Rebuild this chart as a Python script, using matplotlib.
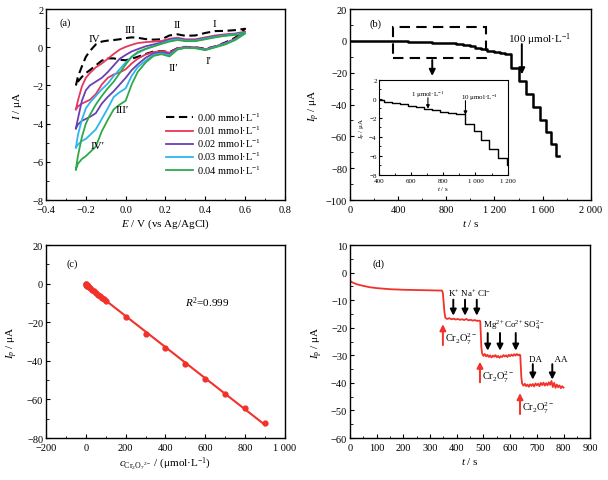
import numpy as np
import matplotlib
matplotlib.use("Agg")
import matplotlib.pyplot as plt
from matplotlib.patches import Rectangle
from matplotlib.ticker import MultipleLocator, FuncFormatter

plt.rcParams.update({
    "font.family": ["Liberation Serif", "DejaVu Serif"],
    "mathtext.fontset": "custom",
    "mathtext.rm": "Liberation Serif",
    "mathtext.it": "Liberation Serif:italic",
    "mathtext.bf": "Liberation Serif:bold",
    "font.size": 7.5,
    "axes.linewidth": 1.0,
    "xtick.direction": "in",
    "ytick.direction": "in",
    "xtick.major.size": 3,
    "ytick.major.size": 3,
    "xtick.minor.size": 1.8,
    "ytick.minor.size": 1.8,
})

# ---- (a) cyclic voltammograms, read on a common potential grid ----
cv_E = [-0.25, -0.24, -0.22, -0.20, -0.18, -0.15, -0.12, -0.09, -0.06, -0.03,
        0.00, 0.03, 0.06, 0.10, 0.14, 0.18, 0.22, 0.26, 0.30, 0.35,
        0.40, 0.45, 0.50, 0.55, 0.60]
cv_labels = ["0.00", "0.01", "0.02", "0.03", "0.04"]
cv_colors = ["black", "#e8365d", "#6b3fb3", "#2db6ef", "#2fa84a"]
# forward (anodic) branch, same order as cv_E
cv_up = [
    [-2.0, -1.55, -1.0, -0.5, -0.2, 0.15, 0.3, 0.35, 0.38, 0.42, 0.48, 0.52, 0.5, 0.43,
     0.4, 0.42, 0.62, 0.68, 0.6, 0.62, 0.75, 0.85, 0.86, 0.9, 0.97],
    [-3.25, -2.8, -2.05, -1.6, -1.35, -1.05, -0.85, -0.6, -0.35, -0.12, 0.02, 0.13, 0.22,
     0.27, 0.3, 0.33, 0.45, 0.5, 0.42, 0.42, 0.52, 0.62, 0.68, 0.72, 0.82],
    [-4.25, -3.75, -2.8, -2.25, -2.0, -1.8, -1.6, -1.3, -0.95, -0.6, -0.4, -0.22, -0.1,
     0.05, 0.15, 0.25, 0.4, 0.45, 0.38, 0.38, 0.48, 0.58, 0.64, 0.7, 0.78],
    [-5.25, -4.6, -3.8, -3.2, -2.9, -2.55, -2.2, -1.9, -1.5, -1.15, -0.8, -0.5, -0.3,
     -0.1, 0.05, 0.2, 0.35, 0.42, 0.35, 0.35, 0.45, 0.55, 0.62, 0.68, 0.75],
    [-6.4, -5.7, -4.7, -4.0, -3.55, -3.0, -2.55, -2.15, -1.8, -1.35, -0.9, -0.5, -0.25,
     -0.08, 0.05, 0.18, 0.3, 0.38, 0.32, 0.32, 0.42, 0.52, 0.6, 0.65, 0.72],
]
# reverse (cathodic) branch, same order as cv_E
cv_down = [
    [-2.0, -1.8, -1.55, -1.35, -1.2, -0.95, -0.7, -0.58, -0.58, -0.65, -0.68, -0.6, -0.5,
     -0.35, -0.22, -0.2, -0.25, -0.05, 0.02, 0.0, -0.08, 0.05, 0.25, 0.5, 0.97],
    [-3.25, -3.1, -2.95, -2.85, -2.75, -2.45, -1.95, -1.6, -1.42, -1.32, -1.15, -0.85, -0.6,
     -0.38, -0.25, -0.2, -0.28, -0.05, 0.02, 0.0, -0.1, 0.05, 0.22, 0.45, 0.82],
    [-4.25, -4.05, -3.85, -3.75, -3.65, -3.45, -2.95, -2.6, -2.3, -1.95, -1.6, -1.2, -0.9,
     -0.55, -0.32, -0.27, -0.35, -0.08, 0.0, -0.02, -0.12, 0.03, 0.2, 0.42, 0.78],
    [-5.25, -5.1, -4.9, -4.8, -4.6, -4.3, -3.75, -3.2, -2.6, -2.35, -2.15, -1.5, -1.05,
     -0.7, -0.4, -0.32, -0.42, -0.1, -0.02, -0.04, -0.13, 0.02, 0.18, 0.4, 0.75],
    [-6.4, -6.1, -5.85, -5.7, -5.5, -5.2, -4.4, -3.8, -3.25, -3.0, -2.8, -1.95, -1.3,
     -0.8, -0.45, -0.36, -0.48, -0.12, -0.03, -0.05, -0.15, 0.0, 0.15, 0.38, 0.72],
]
peak_names = ["I", "II", "III", "IV", "I\u2032", "II\u2032", "III\u2032", "IV\u2032"]
peak_E = [0.446, 0.26, 0.02, -0.155, 0.415, 0.24, -0.02, -0.14]
peak_I = [1.27, 1.2, 0.92, 0.47, -0.7, -1.05, -3.25, -5.15]

# ---- (b) amperometric staircase ----
b_t = [0, 380, 430, 480, 530, 580, 630, 680, 730, 780, 830, 880, 936, 994, 1036,
       1086, 1140, 1195, 1245, 1290, 1336, 1405, 1465, 1520, 1575, 1625, 1670, 1712, 1740]
b_I = [0.0, -0.15, -0.3, -0.45, -0.6, -0.75, -0.9, -1.05, -1.2, -1.35, -1.5, -1.65,
       -2.65, -3.45, -4.35, -5.3, -6.25, -7.0, -7.7, -8.5, -16.8, -25.0, -33.3, -41.5,
       -49.5, -57.4, -65.0, -72.5, -72.5]

# ---- (c) calibration ----
conc = [1, 2, 3, 4, 5, 6, 7, 8, 9, 10, 20, 30, 40, 50, 60, 70, 80, 90,
        100, 200, 300, 400, 500, 600, 700, 800, 900]
peak_current = [-0.2, -0.35, -0.5, -0.6, -0.75, -0.85, -1.0, -1.1, -1.25, -1.4, -2.3,
                -3.1, -4.0, -4.8, -5.6, -6.4, -7.3, -8.1, -9.0, -17.1, -25.9, -33.3,
                -41.4, -49.5, -57.4, -64.7, -72.2]

# ---- (d) interference test ----
d_t = [0, 10, 25, 50, 75, 100, 150, 200, 250, 300, 345,
       348, 351, 354, 357, 360,
       365, 372, 380, 388, 396, 404, 412, 420, 428, 436, 444, 452, 460, 468, 476, 484, 488,
       490, 492, 495,
       500, 505, 510, 515, 520, 525, 530, 535, 540, 545, 550, 555, 560, 565, 570, 575,
       580, 585, 590, 595, 600, 605, 610, 615, 620, 625, 630, 635, 638,
       640, 642, 645,
       650, 655, 660, 665, 670, 675, 680, 685, 690, 695, 700, 705, 710, 715, 720, 725,
       730, 735, 740, 745, 750, 755, 760, 765, 770, 775, 780, 785, 790, 795, 800]
d_I = [-3.0, -3.6, -4.2, -4.8, -5.3, -5.6, -6.0, -6.2, -6.3, -6.4, -6.5,
       -7.5, -11.0, -14.5, -16.2, -16.6,
       -16.8, -16.5, -16.9, -16.7, -17.0, -16.8, -17.1, -16.9, -17.2, -16.8, -17.3, -17.1,
       -17.4, -17.2, -17.5, -17.4, -17.6,
       -22.0, -27.0, -29.3,
       -30.2, -29.5, -30.4, -29.8, -30.6, -30.0, -30.8, -30.1, -30.5, -29.9, -30.7, -30.2,
       -30.9, -30.3, -30.6, -29.9, -30.4, -30.0, -30.6, -29.8, -30.3, -29.7, -30.2, -29.6,
       -30.1, -29.5, -30.0, -29.7, -30.0,
       -34.0, -38.0, -40.3,
       -41.0, -40.3, -41.2, -40.6, -41.4, -40.5, -41.1, -40.4, -41.3, -40.2, -40.9, -40.3,
       -41.2, -40.0, -40.8, -39.9, -41.0, -40.1, -40.9, -39.8, -40.7, -39.3, -41.5, -40.0,
       -41.8, -40.6, -41.6, -40.9, -41.9, -41.2, -41.7]
# interferent groups: label row, where it starts, and the arrows under it
ion_groups = ["K$^{+}$ Na$^{+}$ Cl$^{-}$", "Mg$^{2+}$Co$^{2+}$SO$_4^{2-}$", "DA      AA"]
ion_group_t = [369, 499, 669]
ion_t = [[387, 431, 475], [516, 562, 621], [685, 758]]
ion_top = [-9.8, -21.9, -33.2]
ion_tip = [-15.6, -28.3, -38.8]
cr_t = [348, 487, 637]
cr_base = [-26.3, -39.8, -51.3]
cr_tip = [-18.7, -32.3, -43.7]

RED = "#f2312b"


def spaced(v, _pos):
    n = int(round(v))
    s = f"{abs(n):,}".replace(",", " ")
    return ("\u2212" if n < 0 else "") + s


def down_arrow(ax, x, y0, y1, color="black", lw=1.4, ms=9):
    ax.annotate("", xy=(x, y1), xytext=(x, y0),
                arrowprops=dict(arrowstyle="-|>", color=color, lw=lw,
                                mutation_scale=ms, shrinkA=0, shrinkB=0))


fig = plt.figure(figsize=(6.08, 4.81), dpi=100)
ax_a = fig.add_axes([0.0757, 0.582, 0.393, 0.397])
ax_b = fig.add_axes([0.5757, 0.582, 0.396, 0.397])
ax_c = fig.add_axes([0.0757, 0.0873, 0.393, 0.401])
ax_d = fig.add_axes([0.5757, 0.0873, 0.395, 0.401])

# (a)
for k in range(len(cv_labels)):
    E_loop = cv_E + cv_E[::-1]
    I_loop = cv_up[k] + cv_down[k][::-1]
    ls = (0, (4, 2.2)) if k == 0 else "-"
    lw = 1.5 if k == 0 else 1.3
    ax_a.plot(E_loop, I_loop, color=cv_colors[k], ls=ls, lw=lw,
              label=cv_labels[k] + " mmol\u00b7L$^{-1}$")
for name, e, i in zip(peak_names, peak_E, peak_I):
    ax_a.text(e, i, name, ha="center", va="center", fontsize=8)
ax_a.text(-0.33, 1.3, "(a)", ha="left", va="center", fontsize=7.5)
ax_a.set_xlim(-0.4, 0.8)
ax_a.set_ylim(-8, 2)
ax_a.xaxis.set_major_locator(MultipleLocator(0.2))
ax_a.xaxis.set_minor_locator(MultipleLocator(0.1))
ax_a.yaxis.set_major_locator(MultipleLocator(2))
ax_a.yaxis.set_minor_locator(MultipleLocator(1))
ax_a.set_xlabel("$E$ / V (vs Ag/AgCl)", fontsize=8, labelpad=2)
ax_a.set_ylabel("$I$ / \u03bcA", fontsize=8, labelpad=6)
ax_a.legend(loc="lower right", bbox_to_anchor=(0.93, 0.09), frameon=False,
            fontsize=7.5, handlelength=2.6, handletextpad=0.4, labelspacing=0.07,
            borderpad=0.2)

# (b)
ax_b.plot(b_t, b_I, color="black", lw=1.8, drawstyle="steps-post")
ax_b.add_patch(Rectangle((357, -10.5), 770, 19.2, fill=False, ec="black",
                         lw=1.5, ls=(0, (5, 3))))
down_arrow(ax_b, 683, -12, -22)
down_arrow(ax_b, 1427, -2, -21)
ax_b.text(1576, 1.6, "100 \u03bcmol\u00b7L$^{-1}$", ha="center", va="center", fontsize=8)
ax_b.text(158, 11, "(b)", ha="left", va="center", fontsize=7.5)
ax_b.set_xlim(0, 2000)
ax_b.set_ylim(-100, 20)
ax_b.xaxis.set_major_locator(MultipleLocator(400))
ax_b.xaxis.set_minor_locator(MultipleLocator(200))
ax_b.yaxis.set_major_locator(MultipleLocator(20))
ax_b.yaxis.set_minor_locator(MultipleLocator(10))
ax_b.xaxis.set_major_formatter(FuncFormatter(spaced))
ax_b.yaxis.set_major_formatter(FuncFormatter(spaced))
ax_b.set_xlabel("$t$ / s", fontsize=8, labelpad=2)
ax_b.set_ylabel("$I_p$ / \u03bcA", fontsize=8, labelpad=3)

ins = fig.add_axes([0.623, 0.635, 0.212, 0.197])
ins.plot(b_t, b_I, color="black", lw=1.0, drawstyle="steps-post")
ins.set_xlim(400, 1200)
ins.set_ylim(-8, 2)
ins.xaxis.set_major_locator(MultipleLocator(200))
ins.xaxis.set_minor_locator(MultipleLocator(100))
ins.yaxis.set_major_locator(MultipleLocator(2))
ins.yaxis.set_minor_locator(MultipleLocator(1))
ins.xaxis.set_major_formatter(FuncFormatter(spaced))
ins.yaxis.set_major_formatter(FuncFormatter(spaced))
ins.tick_params(labelsize=5, length=2, pad=1.5)
ins.tick_params(axis="x", pad=2.5)
ins.tick_params(which="minor", length=1.2)
for sp in ins.spines.values():
    sp.set_linewidth(0.8)
ins.set_xlabel("$t$ / s", fontsize=5, labelpad=0.5)
ins.set_ylabel("$I_p$ / \u03bcA", fontsize=5, labelpad=0.5)
down_arrow(ins, 705, 0.1, -1.05, lw=0.8, ms=5)
down_arrow(ins, 938, -0.2, -1.7, lw=0.8, ms=5)
ins.text(705, 0.5, "1 \u03bcmol\u00b7L$^{-1}$", ha="center", va="center", fontsize=5)
ins.text(1026, 0.2, "10 \u03bcmol\u00b7L$^{-1}$", ha="center", va="center", fontsize=5)

# (c)
fit = np.polyfit(conc, peak_current, 1)
c_line = [0, max(conc)]
ax_c.plot(c_line, np.polyval(fit, c_line), color=RED, lw=1.5)
ax_c.plot(conc, peak_current, "o", color=RED, ms=3.5)
ax_c.text(500, -9.5, "$R^2$=0.999", ha="left", va="center", fontsize=8)
ax_c.text(-96, 10.7, "(c)", ha="left", va="center", fontsize=7.5)
ax_c.set_xlim(-200, 1000)
ax_c.set_ylim(-80, 20)
ax_c.xaxis.set_major_locator(MultipleLocator(200))
ax_c.xaxis.set_minor_locator(MultipleLocator(100))
ax_c.yaxis.set_major_locator(MultipleLocator(20))
ax_c.yaxis.set_minor_locator(MultipleLocator(10))
ax_c.xaxis.set_major_formatter(FuncFormatter(spaced))
ax_c.yaxis.set_major_formatter(FuncFormatter(spaced))
ax_c.set_xlabel("$c_{\\mathrm{Cr_2O_7}^{2-}}$ / (\u03bcmol\u00b7L$^{-1}$)", fontsize=8, labelpad=2)
ax_c.set_ylabel("$I_p$ / \u03bcA", fontsize=8, labelpad=5)

# (d)
ax_d.plot(d_t, d_I, color=RED, lw=1.3)
for label, t0, ts, y0, y1 in zip(ion_groups, ion_group_t, ion_t, ion_top, ion_tip):
    for t in ts:
        down_arrow(ax_d, t, y0, y1)
    ax_d.text(t0, y0 + 0.6, label, ha="left", va="bottom", fontsize=6.5)
for t, y0, y1 in zip(cr_t, cr_base, cr_tip):
    down_arrow(ax_d, t, y0, y1, color=RED)
    ax_d.text(t + 8, (y0 + y1) / 2 - 1.5, "Cr$_2$O$_7^{2-}$", ha="left", va="center", fontsize=7.5)
ax_d.text(84, 3.5, "(d)", ha="left", va="center", fontsize=7.5)
ax_d.set_xlim(0, 900)
ax_d.set_ylim(-60, 10)
ax_d.xaxis.set_major_locator(MultipleLocator(100))
ax_d.xaxis.set_minor_locator(MultipleLocator(50))
ax_d.yaxis.set_major_locator(MultipleLocator(10))
ax_d.yaxis.set_minor_locator(MultipleLocator(5))
ax_d.xaxis.set_major_formatter(FuncFormatter(spaced))
ax_d.yaxis.set_major_formatter(FuncFormatter(spaced))
ax_d.set_xlabel("$t$ / s", fontsize=8, labelpad=2)
ax_d.set_ylabel("$I_\\mathrm{p}$ / \u03bcA", fontsize=8, labelpad=4)

for ax in (ax_a, ax_b, ax_c, ax_d):
    ax.tick_params(labelsize=7.5, pad=2)
    ax.tick_params(axis="x", pad=3.5)

fig.savefig("out.png", dpi=100)
